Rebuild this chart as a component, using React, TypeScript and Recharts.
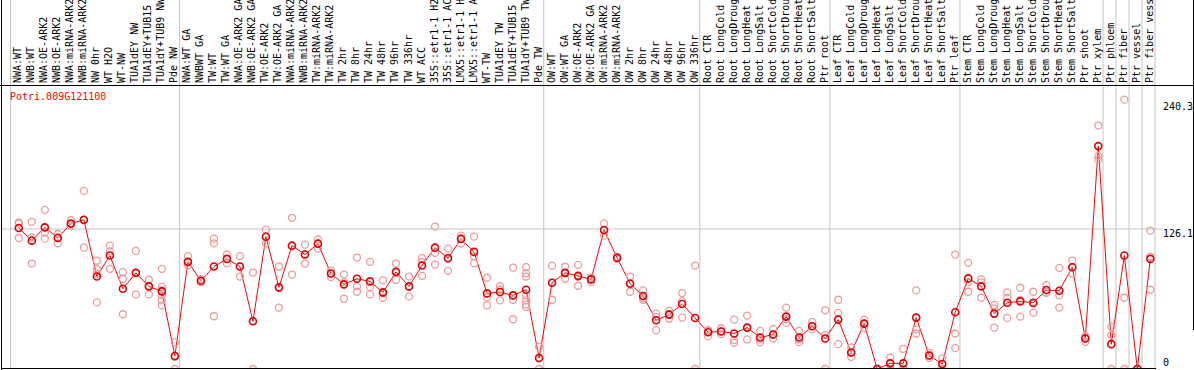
import { ComposedChart, Line, Scatter, XAxis, YAxis, ReferenceLine } from "recharts";

const GENE = "Potri.009G121100";

const labels = [
  "NWA:WT", "NWB:WT", "NWA:OE-ARK2", "NWB:OE-ARK2", "NWA:miRNA-ARK2", "NWB:miRNA-ARK2", "NW 0hr", "WT H2O", "WT-NW",
  "TUA1dEY NW", "TUA1dEY+TUB15", "TUA1dY+TUB9 NW", "Pde NW",
  "NWA:WT GA", "NWBWT GA", "TW:WT", "TW:WT GA", "NWA:OE-ARK2 GA", "NWB:OE-ARK2 GA", "TW:OE-ARK2", "TW:OE-ARK2 GA",
  "NWA:miRNA-ARK2", "NWB:miRNA-ARK2", "TW:miRNA-ARK2", "TW:miRNA-ARK2", "TW 2hr", "TW 8hr", "TW 24hr", "TW 48hr",
  "TW 96hr", "TW 336hr", "WT ACC", "35S::etr1-1 H2O", "35S::etr1-1 ACC", "LMX5::etr1-1 H2O", "LMX5::etr1-1 ACC",
  "WT-TW", "TUA1dEY TW", "TUA1dEY+TUB15", "TUA1dY+TUB9 TW", "Pde TW",
  "OW:WT", "OW:WT GA", "OW:OE-ARK2", "OW:OE-ARK2 GA", "OW:miRNA-ARK2", "OW:miRNA-ARK2", "OW 2hr", "OW 8hr",
  "OW 24hr", "OW 48hr", "OW 96hr", "OW 336hr",
  "Root CTR", "Root LongCold", "Root LongDrought", "Root LongHeat", "Root LongSalt", "Root ShortCold",
  "Root ShortDrought", "Root ShortHeat", "Root ShortSalt", "Ptr root",
  "Leaf CTR", "Leaf LongCold", "Leaf LongDrought", "Leaf LongHeat", "Leaf LongSalt", "Leaf ShortCold",
  "Leaf ShortDrought", "Leaf ShortHeat", "Leaf ShortSalt", "Ptr leaf",
  "Stem CTR", "Stem LongCold", "Stem LongDrought", "Stem LongHeat", "Stem LongSalt", "Stem ShortCold",
  "Stem ShortDrought", "Stem ShortHeat", "Stem ShortSalt", "Ptr shoot", "Ptr xylem",
  "Ptr phloem", "Ptr fiber", "Ptr vessel", "Ptr fiber vessel",
];

// number of samples in each block between the grey separators
const groupSizes = [13, 28, 12, 10, 10, 11, 1, 1, 1, 1];

const means = [
  127, 115.6, 127.6, 118, 131, 134.4, 83.3, 102.2, 72.3, 86.6, 74.4, 69.9, 11.7,
  96.5, 79.5, 92.3, 99.2, 92.3, 43, 119.2, 73.5, 111.1, 103.1, 112.9, 86, 76.2, 81.3, 78.9, 69, 87.5, 74.4,
  93.2, 109.3, 99.8, 117.1, 105.5, 68.1, 69.3, 66.3, 71.4, 9.9,
  77.7, 86.6, 83.9, 80.7, 125.2, 100.1, 76.8, 65.7, 43.9, 49, 58.6, 46,
  33.1, 33.8, 32, 37.3, 28.4, 31.1, 47.2, 28.4, 38.5, 27.5,
  44.5, 14.9, 40.9, 0, 5.1, 5.1, 46.3, 12.2, 4.5, 51.1,
  81.6, 74.4, 49.9, 59.7, 60.9, 59.7, 71.1, 70.5, 91.7, 27.5, 200.8,
  22.4, 102.2, 0, 99.2,
];

const replicates = [
  [132, 131, 118], [132.6, 118.6, 95], [143.4, 123, 117.4], [121.6, 118.6, 113.2], [134.1, 130.5, 129],
  [160.4, 134, 109.3], [97.7, 90, 85.7, 60], [111.1, 106, 90.2], [87.2, 81.3, 49.3], [106.4, 86.6, 67.2],
  [80.4, 75, 67.2], [90.2, 74, 70.8, 66.3, 61.8, 57.4], [24.2, 11, 0],
  [101.6, 96.5, 93.2], [81, 78.3], [117.4, 113.2, 47.5], [103, 95.3], [101.6, 92.3, 83.3], [86.9, 0],
  [125.5, 119, 113.2], [92.3, 73, 55.3], [136.2, 111, 85.1], [112, 103, 95], [116.8, 112.9, 108.4],
  [88.7, 86, 82.8], [85.1, 78, 63.3], [100.4, 74.4, 69.6], [96.5, 73.8, 67.2], [79.8, 68, 64.2],
  [95, 87.5, 80.4], [83.3, 74.4, 65.4], [99.8, 96.2, 83.9], [128.2, 104.6, 94.1], [108.4, 99.8, 88.4],
  [120.1, 118, 113], [119.2, 101.6, 95.3], [82.2, 64.5, 57.4], [74.7, 71.4, 61.8], [91.4, 62.4, 44.8],
  [91.7, 86.3, 83.3, 66.3, 61.8, 58, 55.9], [20, 9.9, 0],
  [92.9, 77.7, 62.4], [92.3, 86.6, 81.3], [93.8, 83, 75], [82.2, 80.7, 78.3], [131.1, 125, 120.1],
  [101, 99.5], [83.3, 77.5, 69.6], [70.8, 64, 62.4], [49.9, 46.8, 35], [52.3, 49.3, 45.4],
  [68.4, 61, 46.3], [93.2, 0],
  [35, 34.5, 29.6], [36.7, 33.8, 31.4], [44.5, 26, 23.6], [48.1, 37.3, 26.6], [34.4, 26.6, 24.2],
  [36.1, 31.1, 27.5], [55.3, 44.8, 41.5], [34.4, 26.6, 24.2], [42.4, 38.5, 35.9], [52.9, 30.5, 0],
  [62.4, 50.5, 22.4], [19.4, 14.6, 11], [44.5, 40.9, 37.3], [0, 0, 0], [10.5, 5, 0], [18.2, 0, 0],
  [70.8, 35.5, 32], [14.6, 12.2, 9.9], [9.6, 4.5, 0], [103.1, 32, 18.8],
  [95.6, 78.3, 69.6], [80.7, 78, 64.2], [57.7, 54.7, 37.3], [69, 64, 46], [73.2, 62.2, 47.2],
  [69.6, 59, 50.8], [75.6, 69, 68.7], [91.1, 66.3, 55.3], [97.7, 91.7, 86], [29.6, 28.4, 24.5],
  [219.3, 191.8, 188.8],
  [37.9, 30.5, 0], [242.6, 64.2, 0], [0, 0, 0], [124.6, 101.3, 71.4],
];

const yTicks = [0, 126.1, 240.3];

// layout
const W = 1194;
const H = 370;
const PLOT_L = 1;
const PLOT_R = 1162;
const PLOT_B = 369;
const COL_L = 10.5; // left edge of first sample column
const COL_W = 13.006;
const N = labels.length;
const DOT_OFF = 0.64; // dot sits a bit right of column centre
const Y_TOP = 332.4; // value at the very top of the picture
const FONT = "'DejaVu Sans Mono', monospace";

const xMin = -(COL_L - PLOT_L) / COL_W;
const xMax = N + (PLOT_R - (COL_L + N * COL_W)) / COL_W;

const meanRows = means.map((v, i) => ({ x: i + DOT_OFF, v }));
const repRows = replicates.flatMap((r, i) => r.map((v) => ({ x: i + DOT_OFF, v })));
const bounds = groupSizes.reduce<number[]>((acc, n) => [...acc, acc[acc.length - 1] + n], [0]);

const HeaderTick = (props: any) => {
  const { x, payload } = props;
  const i = Math.floor(payload.value);
  return (
    <text
      transform={`translate(${x - 1},83) rotate(-90)`}
      textAnchor="start"
      dominantBaseline="central"
      fontFamily={FONT}
      fontSize={10}
      fill="#000"
    >
      {labels[i]}
    </text>
  );
};

const ValueTick = (props: any) => {
  const { x, y, payload } = props;
  return (
    <text x={x} y={y + (payload.value === 0 ? -7 : 4)} dominantBaseline="central" fontFamily={FONT} fontSize={10} fill="#000">
      {payload.value}
    </text>
  );
};

const RepDot = (p: any) => (
  <circle cx={p.cx} cy={p.cy} r={3.5} fill="none" stroke="#ee9a9a" strokeWidth={1.3} />
);

const line = (style: React.CSSProperties) => (
  <div style={{ position: "absolute", background: "#000", ...style }} />
);

export default function App() {
  return (
    <div style={{ position: "absolute", left: 0, top: 0, width: W, height: H, background: "#fff", overflow: "hidden" }}>
      <ComposedChart width={W} height={H} margin={{ top: 0, right: 0, bottom: 0, left: PLOT_L }}>
        <XAxis
          type="number" dataKey="x" orientation="bottom" height={H - PLOT_B}
          domain={[xMin, xMax]} allowDataOverflow
          ticks={labels.map((_, i) => i + DOT_OFF)} interval={0}
          tick={<HeaderTick />} tickLine={false} axisLine={false}
        />
        <YAxis
          type="number" dataKey="v" orientation="right" width={W - PLOT_R}
          domain={[0, Y_TOP]} allowDataOverflow ticks={yTicks} interval={0}
          tick={<ValueTick />} tickLine={false} tickSize={0} tickMargin={1} axisLine={false}
        />
        {bounds.map((b) => (
          <ReferenceLine key={b} x={b} stroke="#c4c4c4" strokeWidth={1} />
        ))}
        <ReferenceLine y={126.1} stroke="#c4c4c4" strokeWidth={1} />
        <Scatter data={repRows} dataKey="v" shape={<RepDot />} isAnimationActive={false} />
        <Line
          data={meanRows} dataKey="v" type="linear" stroke="#ff0000" strokeWidth={1}
          dot={{ r: 3.5, fill: "none", stroke: "#e00000", strokeWidth: 1.6 }}
          activeDot={false} isAnimationActive={false}
        />
      </ComposedChart>
      {line({ left: 1, top: 0, width: 1, height: 370 })}
      {line({ left: 0, top: 85, width: W, height: 1 })}
      {line({ left: 1, top: 368, width: 1155, height: 1 })}
      {line({ left: W - 1, top: 0, width: 1, height: 330 })}
      <div style={{ position: "absolute", left: 10, top: 90, fontFamily: FONT, fontSize: 10, lineHeight: "13px", color: "#ff0000" }}>
        {GENE}
      </div>
    </div>
  );
}
